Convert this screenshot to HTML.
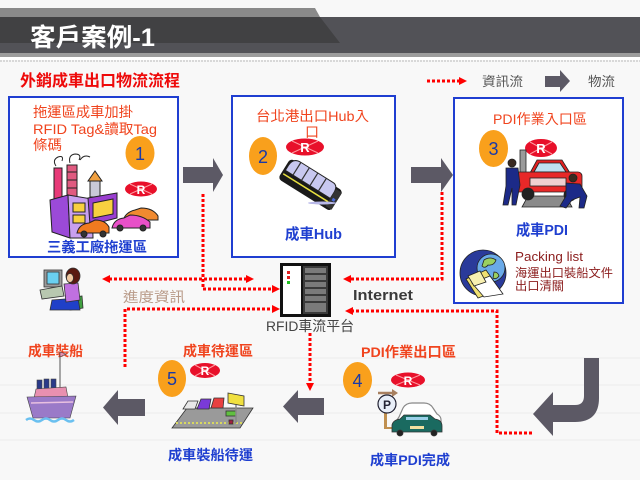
<!DOCTYPE html>
<html><head><meta charset="utf-8"><style>
html,body{margin:0;padding:0;background:#f8f8f8;}
svg{display:block;}
text{font-family:"Liberation Sans","Noto Sans CJK TC","Noto Sans CJK SC",sans-serif;}
</style></head><body>
<svg width="640" height="480" viewBox="0 0 640 480" xmlns="http://www.w3.org/2000/svg">
<rect x="0" y="0" width="640" height="480" fill="#f8f8f8"/>
<!-- faint background lines -->
<g stroke="#ececec" stroke-width="1">
<line x1="0" y1="358" x2="640" y2="358"/><line x1="0" y1="385" x2="640" y2="385"/>
<line x1="0" y1="413" x2="640" y2="413"/><line x1="0" y1="440" x2="640" y2="440"/>
</g>
<!-- header -->
<polygon points="0,8 315,8 320,17 0,17" fill="#8a8a8a"/>
<rect x="0" y="17" width="640" height="36" fill="#525257"/>
<polygon points="0,17 320,17 340,43 0,43" fill="#414143"/>
<rect x="0" y="53" width="640" height="4" fill="#9c9c9c"/>
<rect x="0" y="57" width="640" height="3" fill="#ffffff"/>
<line x1="0" y1="61" x2="640" y2="61" stroke="#b8b8b8" stroke-width="1" stroke-dasharray="2,1"/>
<text x="30" y="46" font-size="25" font-weight="bold" fill="#ffffff" textLength="125" lengthAdjust="spacingAndGlyphs">客戶案例-1</text>

<!-- red title & legend -->
<text x="20" y="86" font-size="16" font-weight="bold" fill="#ee0a0a" textLength="160" lengthAdjust="spacingAndGlyphs">外銷成車出口物流流程</text>
<line x1="427" y1="81" x2="460" y2="81" stroke="#ff0000" stroke-width="3" stroke-dasharray="3,2"/>
<polygon points="467,81 459,77 459,85" fill="#ff0000"/>
<text x="482" y="86" font-size="13" fill="#555" textLength="41" lengthAdjust="spacingAndGlyphs">資訊流</text>
<rect x="545" y="76" width="16" height="11" fill="#5c5965"/>
<polygon points="560,70 570,81 560,92" fill="#5c5965"/>
<text x="588" y="86" font-size="13" fill="#555" textLength="27" lengthAdjust="spacingAndGlyphs">物流</text>

<!-- boxes -->
<rect x="9" y="97" width="169" height="160" fill="#ffffff" stroke="#1f3ed1" stroke-width="2"/>
<rect x="232" y="96" width="163" height="161" fill="#ffffff" stroke="#1f3ed1" stroke-width="2"/>
<rect x="454" y="98" width="169" height="205" fill="#ffffff" stroke="#1f3ed1" stroke-width="2"/>

<!-- box1 text -->
<g fill="#f0441e" font-size="14">
<text x="33" y="117" textLength="100" lengthAdjust="spacingAndGlyphs">拖運區成車加掛</text>
<text x="33" y="134" textLength="124" lengthAdjust="spacingAndGlyphs">RFID Tag&amp;讀取Tag</text>
<text x="33" y="150" textLength="29" lengthAdjust="spacingAndGlyphs">條碼</text>
</g>
<!-- circle 1 -->
<ellipse cx="140" cy="153" rx="14.5" ry="17" fill="#f9a01c"/>
<text x="140" y="160" font-size="18" fill="#1a3aa8" text-anchor="middle">1</text>
<!-- R badge 1 -->
<g>
<ellipse cx="141" cy="189" rx="16" ry="7.5" fill="#e8102a"/>
<line x1="130" y1="184" x2="152" y2="194" stroke="#ff9aa0" stroke-width="1"/>
<line x1="130" y1="194" x2="152" y2="184" stroke="#ff9aa0" stroke-width="1"/>
<text x="141" y="194" font-size="12" font-weight="bold" fill="#fff" text-anchor="middle">R</text>
</g>
<!-- factory clipart -->
<g stroke="#222" stroke-width="1">
<path d="M56,166 q-4,-6 2,-9 q6,-2 4,4 M70,163 q-2,-8 5,-9 q7,0 4,6 M80,160 q4,-6 10,-3" fill="none"/>
<rect x="54" y="168" width="8" height="36" fill="#e83a78"/>
<rect x="67" y="165" width="10" height="38" fill="#e05a80"/>
<line x1="67" y1="172" x2="77" y2="172"/><line x1="67" y1="180" x2="77" y2="180"/><line x1="67" y1="188" x2="77" y2="188"/>
<polygon points="88,181 95,171 102,181" fill="#f0a040"/>
<rect x="90" y="181" width="10" height="16" fill="#c8c8d8"/>
<polygon points="50,200 68,195 70,238 52,232" fill="#9b4ad8"/>
<polygon points="68,195 92,199 93,238 70,238" fill="#c8a0f0"/>
<rect x="73" y="203" width="12" height="9" fill="#f8d040"/>
<rect x="73" y="215" width="12" height="8" fill="#f8d040"/>
<polygon points="88,198 117,193 117,218 90,225" fill="#9a3fd0"/>
<polygon points="93,203 113,199 113,214 93,218" fill="#f8d040"/>
<path d="M77,233 q2,-9 12,-10 l6,-3 q10,0 14,7 l0,6 z" fill="#f07a20"/>
<circle cx="84" cy="234" r="3" fill="#333"/><circle cx="103" cy="234" r="3" fill="#333"/>
<path d="M123,220 q3,-8 12,-10 l6,-2 q12,0 17,8 l0,4 z" fill="#f08a30"/>
<path d="M112,228 q2,-9 12,-10 l6,-3 q12,0 20,7 l0,6 z" fill="#e850c8"/>
<circle cx="120" cy="228" r="3" fill="#333"/><circle cx="143" cy="228" r="3" fill="#333"/>
</g>
<text x="47" y="252" font-size="14" font-weight="bold" fill="#1f3fd0" textLength="100" lengthAdjust="spacingAndGlyphs">三義工廠拖運區</text>

<!-- box2 -->
<g fill="#f0441e" font-size="14">
<text x="256" y="121" textLength="113" lengthAdjust="spacingAndGlyphs">台北港出口Hub入</text>
<text x="312" y="137" text-anchor="middle">口</text>
</g>
<ellipse cx="263" cy="156" rx="14" ry="19" fill="#f9a01c"/>
<text x="263" y="163" font-size="18" fill="#1a3aa8" text-anchor="middle">2</text>
<g>
<ellipse cx="305" cy="147" rx="19" ry="8.5" fill="#e8102a"/>
<line x1="292" y1="141" x2="318" y2="153" stroke="#ff9aa0" stroke-width="1"/>
<line x1="292" y1="153" x2="318" y2="141" stroke="#ff9aa0" stroke-width="1"/>
<text x="305" y="152" font-size="13" font-weight="bold" fill="#fff" text-anchor="middle">R</text>
</g>
<!-- hub clipart -->
<g transform="translate(311,184) rotate(32)">
<rect x="-31" y="-11" width="62" height="24" rx="4" fill="#1a1a1a"/>
<path d="M-29,2 L-29,-4 Q-29,-13 -20,-13 L18,-13 Q24,-13 24,-4 L24,2 Z" fill="#c8c8f0" stroke="#222" stroke-width="1"/>
<g stroke="#333" stroke-width="1.2"><line x1="-20" y1="-13" x2="-20" y2="2"/><line x1="-10" y1="-13" x2="-10" y2="2"/><line x1="0" y1="-13" x2="0" y2="2"/><line x1="10" y1="-13" x2="10" y2="2"/></g>
<line x1="-29" y1="6" x2="24" y2="6" stroke="#e8e040" stroke-width="1.5"/>
<rect x="24" y="-9" width="7" height="20" fill="#333"/>
<rect x="26" y="0" width="3" height="3" fill="#4a6ad8"/>
</g>
<ellipse cx="322" cy="203" rx="14" ry="1.5" fill="#b8b8e8"/>
<text x="285" y="239" font-size="15" font-weight="bold" fill="#1f3fd0" textLength="57" lengthAdjust="spacingAndGlyphs">成車Hub</text>

<!-- box3 -->
<text x="493" y="124" font-size="14" fill="#f0441e" textLength="94" lengthAdjust="spacingAndGlyphs">PDI作業入口區</text>
<ellipse cx="493.5" cy="148.5" rx="14.5" ry="18.5" fill="#f9a01c"/>
<text x="493.5" y="155" font-size="18" fill="#1a3aa8" text-anchor="middle">3</text>
<g>
<ellipse cx="541" cy="148" rx="16" ry="9" fill="#e8102a"/>
<line x1="530" y1="142" x2="552" y2="154" stroke="#ff9aa0" stroke-width="1"/>
<line x1="530" y1="154" x2="552" y2="142" stroke="#ff9aa0" stroke-width="1"/>
<text x="541" y="153" font-size="13" font-weight="bold" fill="#fff" text-anchor="middle">R</text>
</g>
<!-- mechanic clipart -->
<g stroke="#222" stroke-width="0.8">
<polygon points="528,196 566,196 572,207 522,207" fill="#8a8a8a"/>
<rect x="520" y="150" width="6" height="26" fill="#9a9a9a"/>
<circle cx="548" cy="164" r="3.5" fill="#333"/>
<polygon points="530,173 537,160 562,160 570,173" fill="#e02020"/>
<polygon points="534,172 539,163 560,163 566,172" fill="#bfe0f0"/>
<rect x="515" y="172" width="67" height="20" rx="4" fill="#e82828"/>
<rect x="530" y="178" width="36" height="8" fill="#f0d0d0"/>
<circle cx="528" cy="194" r="6" fill="#222"/><circle cx="570" cy="195" r="6" fill="#222"/>
<circle cx="512" cy="163" r="4" fill="#3a2a20"/>
<path d="M506,168 L518,168 L520,185 L516,205 L512,205 L512,188 L508,205 L503,205 L506,186 Z" fill="#1c2a88"/>
<circle cx="573" cy="178" r="4" fill="#3a2a20"/>
<path d="M566,183 L580,184 L587,196 L584,208 L579,208 L580,197 L572,200 L566,208 L560,206 L566,196 Z" fill="#1c2a88"/>
</g>
<text x="516" y="235" font-size="15" font-weight="bold" fill="#1f3fd0" textLength="52" lengthAdjust="spacingAndGlyphs">成車PDI</text>
<!-- globe clipart -->
<g stroke="#222" stroke-width="0.8">
<ellipse cx="483" cy="273" rx="23" ry="23" fill="#2a3a9a"/>
<circle cx="491" cy="268" r="14" fill="#6aaae8"/>
<path d="M484,260 q6,-4 12,0 q-2,6 -8,5 q-3,4 -6,1 z M494,272 q4,0 5,4 q-3,4 -6,2 z" fill="#9ad060"/>
<polygon points="466,279 486,270 500,290 478,298" fill="#f0e070"/>
<polygon points="472,283 490,276 503,294 484,297" fill="#ffffff"/>
<polygon points="468,276 480,271 486,282 474,286" fill="#f8f0b0"/>
</g>
<g fill="#8b1c1c">
<text x="515" y="261" font-size="13" textLength="68" lengthAdjust="spacingAndGlyphs">Packing list</text>
<text x="515" y="277" font-size="12" textLength="98" lengthAdjust="spacingAndGlyphs">海運出口裝船文件</text>
<text x="515" y="290" font-size="12" textLength="49" lengthAdjust="spacingAndGlyphs">出口清關</text>
</g>

<!-- gray flow arrows -->
<g fill="#5c5965">
<rect x="183" y="167" width="31" height="16"/>
<polygon points="213,158 223,175 213,192"/>
<rect x="411" y="167" width="31" height="16"/>
<polygon points="441,158 453,175 441,192"/>
<rect x="297" y="398" width="27" height="17"/>
<polygon points="298,390 283,406.5 298,423"/>
<rect x="117" y="399" width="28" height="17"/>
<polygon points="118,390 103,407.5 118,425"/>
<path d="M584,358 L599,358 L599,398 Q599,422 575,422 L553,422 L553,436 L533,414 L553,392 L553,405 L575,405 Q584,405 584,396 Z"/>
</g>

<!-- dotted info flow lines -->
<g stroke="#ff0000" stroke-width="3" stroke-dasharray="3,2" fill="none">
<polyline points="203,194 203,289 273,289"/>
<line x1="109" y1="279" x2="247" y2="279"/>
<polyline points="125,367 125,309 273,309"/>
<polyline points="442,192 442,279 350,279"/>
<polyline points="532,433 497,433 497,311 352,311"/>
<line x1="310" y1="333" x2="310" y2="384"/>
</g>
<g fill="#ff0000">
<polygon points="280,289 272,285 272,293"/>
<polygon points="102,279 110,275 110,283"/>
<polygon points="254,279 246,275 246,283"/>
<polygon points="280,309 272,305 272,313"/>
<polygon points="343,279 351,275 351,283"/>
<polygon points="345,311 353,307 353,315"/>
<polygon points="310,391 306,383 314,383"/>
</g>

<!-- server -->
<rect x="280" y="263" width="51" height="54" fill="#111"/>
<rect x="283" y="266" width="18" height="48" fill="#ffffff"/>
<rect x="303" y="266" width="25" height="48" fill="#3a3a3a"/>
<g fill="#7a7a7a">
<rect x="305" y="268" width="21" height="5"/><rect x="305" y="275" width="21" height="5"/>
<rect x="305" y="282" width="21" height="5"/><rect x="305" y="289" width="21" height="5"/>
<rect x="305" y="296" width="21" height="5"/><rect x="305" y="303" width="21" height="9"/>
</g>
<rect x="287" y="271" width="3" height="3" fill="#e02020"/>
<rect x="287" y="276" width="3" height="3" fill="#e02020"/>
<rect x="287" y="281" width="3" height="3" fill="#20c020"/>
<text x="266" y="331" font-size="14" fill="#444" textLength="88" lengthAdjust="spacingAndGlyphs">RFID車流平台</text>
<text x="353" y="300" font-size="15" font-weight="bold" fill="#3a3a3a" textLength="60" lengthAdjust="spacingAndGlyphs">Internet</text>
<text x="123" y="302" font-size="14" fill="#b89a88" textLength="62" lengthAdjust="spacingAndGlyphs">進度資訊</text>

<!-- woman at computer -->
<g stroke="#333" stroke-width="0.8">
<rect x="44" y="270" width="18" height="17" fill="#9a9a9a"/>
<rect x="47" y="272" width="12" height="12" fill="#6ad0f0"/>
<polygon points="40,290 62,286 64,296 42,299" fill="#b8c8b0"/>
<path d="M68,298 L82,296 L83,308 L70,310 Z" fill="#40a040"/>
<path d="M52,300 L78,298 L80,310 L50,310 Z" fill="#2040c8"/>
<path d="M64,284 L78,283 L80,300 L66,302 Z" fill="#c070e0"/>
<ellipse cx="73" cy="276" rx="7" ry="8" fill="#5a1a10"/>
<ellipse cx="70" cy="278" rx="3.5" ry="4.5" fill="#f0c8a0"/>
</g>

<!-- bottom labels -->
<g fill="#f0441e" font-size="14" font-weight="bold">
<text x="28" y="356" textLength="55" lengthAdjust="spacingAndGlyphs">成車裝船</text>
<text x="183" y="356" textLength="70" lengthAdjust="spacingAndGlyphs">成車待運區</text>
<text x="361" y="357" textLength="95" lengthAdjust="spacingAndGlyphs">PDI作業出口區</text>
</g>
<g fill="#1f3fd0" font-size="14" font-weight="bold">
<text x="168" y="460" textLength="85" lengthAdjust="spacingAndGlyphs">成車裝船待運</text>
<text x="370" y="465" textLength="80" lengthAdjust="spacingAndGlyphs">成車PDI完成</text>
</g>

<!-- circle 5 & R -->
<ellipse cx="172" cy="378.5" rx="14" ry="18.5" fill="#f9a01c"/>
<text x="172" y="385" font-size="18" fill="#1a3aa8" text-anchor="middle">5</text>
<g>
<ellipse cx="205" cy="370.5" rx="15" ry="7.5" fill="#e8102a"/>
<line x1="195" y1="365" x2="215" y2="376" stroke="#ff9aa0" stroke-width="1"/>
<line x1="195" y1="376" x2="215" y2="365" stroke="#ff9aa0" stroke-width="1"/>
<text x="205" y="375" font-size="12" font-weight="bold" fill="#fff" text-anchor="middle">R</text>
</g>
<!-- circle 4 & R -->
<ellipse cx="357.5" cy="380" rx="14.5" ry="18" fill="#f9a01c"/>
<text x="357.5" y="387" font-size="18" fill="#1a3aa8" text-anchor="middle">4</text>
<g>
<ellipse cx="408" cy="380" rx="17" ry="7.5" fill="#e8102a"/>
<line x1="396" y1="375" x2="420" y2="385" stroke="#ff9aa0" stroke-width="1"/>
<line x1="396" y1="385" x2="420" y2="375" stroke="#ff9aa0" stroke-width="1"/>
<text x="408" y="385" font-size="12" font-weight="bold" fill="#fff" text-anchor="middle">R</text>
</g>

<!-- ship -->
<g stroke="#444" stroke-width="0.6">
<line x1="60" y1="352" x2="60" y2="388" stroke="#555" stroke-width="1"/>
<polygon points="60,352 66,354 60,357" fill="#e890b0"/>
<rect x="37" y="380" width="5" height="9" fill="#2a3a8a"/>
<rect x="44" y="379" width="5" height="10" fill="#2a3a8a"/>
<rect x="51" y="379" width="5" height="10" fill="#2a3a8a"/>
<polygon points="36,389 66,387 68,398 34,398" fill="#e890b0"/>
<polygon points="27,397 76,396 70,418 33,418" fill="#9a7ac8"/>
<line x1="31" y1="403" x2="73" y2="402" stroke="#e8c0e0" stroke-width="1.5"/>
</g>
<path d="M26,420 q4,-3 8,0 q4,3 8,0 q4,-3 8,0 q4,3 8,0 q4,-3 8,0 q4,3 8,0" stroke="#6ac0f0" stroke-width="2.5" fill="none"/>

<!-- parking clipart -->
<g stroke="#333" stroke-width="0.8">
<polygon points="172,428 187,408 253,408 240,428" fill="#9a9a9a"/>
<line x1="176" y1="423" x2="243" y2="423" stroke="#d8d860" stroke-width="2" stroke-dasharray="2,2"/>
<polygon points="183,409 188,401 198,401 195,409" fill="#e8e8e8"/>
<polygon points="197,409 201,399 211,399 209,409" fill="#7a3ad8"/>
<polygon points="211,408 214,398 224,398 223,408" fill="#e84040"/>
<rect x="226" y="411" width="10" height="5" fill="#60c040"/>
<line x1="236" y1="405" x2="236" y2="423" stroke="#888" stroke-width="1.5"/>
<polygon points="228,393 244,396 244,406 228,403" fill="#f0e040"/>
<rect x="229" y="420" width="4" height="4" fill="#a02040"/>
</g>

<!-- car PDI complete clipart -->
<g stroke="#333" stroke-width="0.8">
<line x1="378" y1="393" x2="392" y2="393" stroke="#a88060" stroke-width="2.5"/>
<polygon points="392,389 398,393 392,397" fill="#a88060" stroke="none"/>
<rect x="384" y="412" width="3" height="16" fill="#c09050" stroke="none"/>
<line x1="384" y1="428" x2="396" y2="428" stroke="#c09050" stroke-width="2"/>
<circle cx="387" cy="404" r="9" fill="#e8eef8" stroke="#223" stroke-width="1.2"/>
<path d="M399,417 L403,408 Q406,403 412,403 L424,403 Q430,403 433,408 L437,414 Q441,416 441,420 L441,423 L395,423 Z" fill="#ffffff" stroke="#888" stroke-width="1.2"/>
<path d="M392,425 Q393,420 400,419 L404,415 L430,415 L435,419 Q442,420 442,426 L442,432 L392,432 Z" fill="#1a6a60"/>
<rect x="406" y="417" width="22" height="3" fill="#9ad0e8" stroke="none"/>
<rect x="410" y="426" width="14" height="3" fill="#f0e0a0" stroke="none"/>
<circle cx="400" cy="433" r="3" fill="#222"/><circle cx="434" cy="433" r="3" fill="#222"/>
</g>
<text x="387" y="409" font-size="12" font-weight="bold" fill="#223" text-anchor="middle">P</text>
</svg>
</body></html>
